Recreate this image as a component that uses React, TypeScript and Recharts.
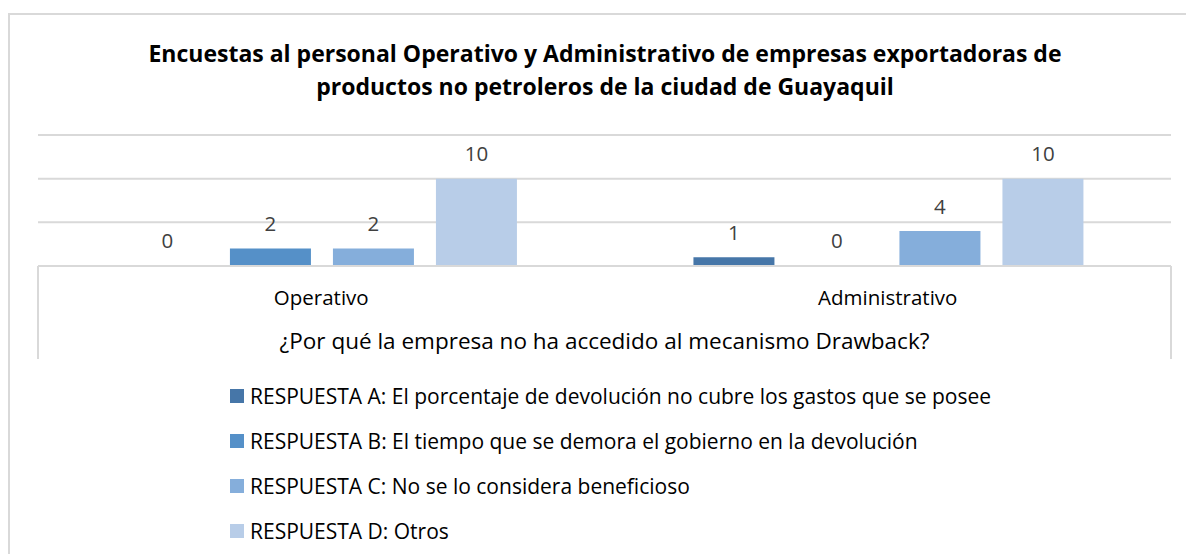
import React from 'react'
import { BarChart, Bar, XAxis, YAxis, CartesianGrid, Legend, LabelList } from 'recharts'

const categories = ['Operativo', 'Administrativo']
const respuestaA = [0, 1]
const respuestaB = [2, 0]
const respuestaC = [2, 4]
const respuestaD = [10, 10]
const seriesNames = [
  'RESPUESTA A: El porcentaje de devolución no cubre los gastos que se posee',
  'RESPUESTA B: El tiempo que se demora el gobierno en la devolución',
  'RESPUESTA C: No se lo considera beneficioso',
  'RESPUESTA D: Otros'
]
const yTicks = [0, 5, 10, 15]

const TITLE_LINES = [
  'Encuestas al personal Operativo y Administrativo de empresas exportadoras de',
  'productos no petroleros de la ciudad de Guayaquil'
]
const AXIS_TITLE = '¿Por qué la empresa no ha accedido al mecanismo Drawback?'

const COLORS = ['#4676a8', '#5590c8', '#85aedb', '#b8cde8']
const FONT = '"Open Sans", "Noto Sans", sans-serif'
const GRID = '#d9d9d9'
const TEXT_SIZE = 20.5

const data = categories.map((name, i) => ({
  name,
  a: respuestaA[i],
  b: respuestaB[i],
  c: respuestaC[i],
  d: respuestaD[i]
}))

const seriesKeys = ['a', 'b', 'c', 'd']

const CategoryTick = ({ x, y, payload }: any) => (
  <text x={x} y={y + 39} textAnchor="middle" fill="#000" fontSize={TEXT_SIZE}>
    {payload.value}
  </text>
)

// custom label so that zero values still get their "0"
const ValueLabel = (props: any) => {
  const { x, y, width, height, value } = props
  if (x == null || y == null) return null
  // bars are drawn with a tiny min size, so measure from the bar top
  const top = Number(y) + Math.min(Number(height), 0)
  return (
    <text x={Number(x) + Number(width) / 2} y={top - 17.5} textAnchor="middle" fill="#404040" fontSize={TEXT_SIZE}>
      {String(value)}
    </text>
  )
}

const renderLegend = (props: any) => (
  <div>
    {props.payload.map((entry: any, idx: number) => (
      <div key={idx} style={{ display: 'flex', alignItems: 'center', height: 45 }}>
        <span style={{ width: 14, height: 14, background: entry.color, marginRight: 6 }} />
        <span style={{ fontSize: 21, color: '#000', whiteSpace: 'nowrap' }}>{entry.value}</span>
      </div>
    ))}
  </div>
)

export default function App() {
  return (
    <div
      style={{
        position: 'absolute',
        left: 0,
        top: 0,
        width: 1186,
        height: 554,
        overflow: 'hidden',
        background: '#fff',
        fontFamily: FONT
      }}
    >
      {/* chart frame, cropped on the right and bottom */}
      <div
        style={{
          position: 'absolute',
          left: 8,
          top: 13,
          width: 1300,
          height: 700,
          border: `2px solid ${GRID}`,
          boxSizing: 'border-box'
        }}
      />
      {/* box around the category axis */}
      <div
        style={{
          position: 'absolute',
          left: 37,
          top: 266,
          width: 1135,
          height: 93,
          borderLeft: `2px solid ${GRID}`,
          borderRight: `2px solid ${GRID}`,
          boxSizing: 'border-box'
        }}
      />
      <div
        style={{
          position: 'absolute',
          left: 8,
          top: 37,
          width: 1194,
          textAlign: 'center',
          fontWeight: 700,
          fontSize: 23,
          lineHeight: '33px',
          color: '#000'
        }}
      >
        {TITLE_LINES.map((line) => (
          <div key={line}>{line}</div>
        ))}
      </div>
      <div style={{ position: 'absolute', left: 0, top: 0 }}>
        <BarChart
          width={1186}
          height={554}
          data={data}
          margin={{ top: 135, left: 38, right: 15, bottom: 195 }}
          barCategoryGap="15.7%"
          barGap={22}
        >
          <CartesianGrid vertical={false} stroke={GRID} strokeWidth={2} />
          <YAxis hide domain={[0, 15]} ticks={yTicks} />
          <XAxis
            dataKey="name"
            height={93}
            tickSize={0}
            tickMargin={0}
            tickLine={false}
            axisLine={{ stroke: GRID, strokeWidth: 2 }}
            tick={<CategoryTick />}
            label={{ value: AXIS_TITLE, position: 'insideBottom', offset: 10, fill: '#000', fontSize: 22.5 }}
          />
          <Legend
            layout="vertical"
            verticalAlign="middle"
            align="center"
            content={renderLegend}
            wrapperStyle={{ top: 373, left: 230, width: 'auto', height: 'auto' }}
          />
          {seriesKeys.map((key, i) => (
            <Bar
              key={key}
              dataKey={key}
              name={seriesNames[i]}
              fill={COLORS[i]}
              minPointSize={0.01}
              isAnimationActive={false}
            >
              <LabelList dataKey={key} content={<ValueLabel />} />
            </Bar>
          ))}
        </BarChart>
      </div>
    </div>
  )
}
